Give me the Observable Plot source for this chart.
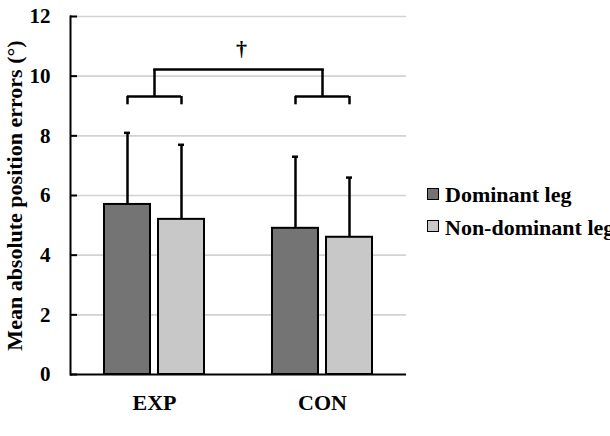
<!DOCTYPE html>
<html>
<head>
<meta charset="utf-8">
<script src="https://cdn.jsdelivr.net/npm/d3@7"></script>
<script src="https://cdn.jsdelivr.net/npm/@observablehq/plot@0.6"></script>
<style>
  html, body { margin: 0; padding: 0; background: #fff; overflow: hidden; }
  #wrap { position: relative; width: 610px; height: 436px; }
  #wrap svg { position: absolute; left: 0; top: 0; }
  .key { position: absolute; font: bold 22px "Liberation Serif", "DejaVu Serif", serif; line-height: 22px; white-space: nowrap; color: #000; }
  .swatch { position: absolute; width: 10px; height: 10px; border: 1.6px solid #000; }
</style>
</head>
<body>
<div id="wrap"></div>
<script>
// Groups and leg conditions
const groups = ["EXP", "CON"];
const legLabels = ["Dominant leg", "Non-dominant leg"];

// Mean absolute position error (°) and SD for each group
const dominantMean = [5.7, 4.9];
const dominantSD = [2.4, 2.4];
const nonDominantMean = [5.2, 4.6];
const nonDominantSD = [2.5, 2.0];

// Axis ticks
const yTicks = [0, 2, 4, 6, 8, 10, 12];

// Significance bracket levels (°) and marker
const bracketFoot = 9.04;
const bracketArm = 9.32;
const bracketTop = 10.22;
const daggerLevel = 10.9;
const significance = "†";

const colors = { dominant: "#747474", nonDominant: "#c8c8c8" };
const serifFont = "'Liberation Serif', 'DejaVu Serif', serif";

const dominant = groups.map((g, i) => ({ group: g, mean: dominantMean[i], sd: dominantSD[i] }));
const nonDominant = groups.map((g, i) => ({ group: g, mean: nonDominantMean[i], sd: nonDominantSD[i] }));

// Layout of the frame and of the two bars inside each group band
const W = 610, H = 436;
const M = { left: 70, right: 204, top: 16, bottom: 62 };
const frameW = W - M.left - M.right;
const bandW = frameW / groups.length;
const barW = 46, innerGap = 8;
const outer = (bandW - 2 * barW - innerGap) / 2;
const off = (barW + innerGap) / 2; // bar centre offset from band centre
const capHalf = 3;

const errorMarks = (rows, side) => [
  Plot.ruleX(rows, { x: "group", y1: "mean", y2: d => d.mean + d.sd, dx: side * off, stroke: "#000", strokeWidth: 2.5 }),
  Plot.tickY(rows, {
    x: "group", y: d => d.mean + d.sd, stroke: "#000", strokeWidth: 2.5,
    insetLeft: bandW / 2 + side * off - capHalf, insetRight: bandW / 2 - side * off - capHalf
  })
];

const chart = Plot.plot({
  width: W, height: H,
  marginLeft: M.left, marginRight: M.right, marginTop: M.top, marginBottom: M.bottom,
  style: { fontFamily: serifFont, fontWeight: "bold", background: "transparent", color: "#000" },
  x: { type: "band", domain: groups, paddingInner: 0, paddingOuter: 0 },
  y: { domain: [0, 12] },
  marks: [
    Plot.gridY(yTicks.filter(d => d > 0), { stroke: "#d2d2d2", strokeOpacity: 1, strokeWidth: 1.6 }),
    Plot.axisY(yTicks, { tickSize: 0, tickPadding: 20, fontSize: 21, fontFamily: serifFont, label: null }),
    Plot.axisX({ tickSize: 0, tickPadding: 20, fontSize: 22, fontFamily: serifFont, label: null }),
    Plot.tickY(yTicks, { y: d => d, insetRight: frameW - 7, stroke: "#000", strokeWidth: 2 }),
    Plot.barY(dominant, { x: "group", y: "mean", fill: colors.dominant, stroke: "#000", strokeWidth: 2, insetLeft: outer, insetRight: outer + barW + innerGap }),
    Plot.barY(nonDominant, { x: "group", y: "mean", fill: colors.nonDominant, stroke: "#000", strokeWidth: 2, insetLeft: outer + barW + innerGap, insetRight: outer }),
    ...errorMarks(dominant, -1),
    ...errorMarks(nonDominant, 1),
    // within-group brackets
    Plot.tickY(groups, { x: d => d, y: () => bracketArm, insetLeft: bandW / 2 - off, insetRight: bandW / 2 - off, stroke: "#000", strokeWidth: 2.5 }),
    Plot.ruleX(groups, { x: d => d, y1: () => bracketFoot, y2: () => bracketArm, dx: -off, stroke: "#000", strokeWidth: 2.5 }),
    Plot.ruleX(groups, { x: d => d, y1: () => bracketFoot, y2: () => bracketArm, dx: off, stroke: "#000", strokeWidth: 2.5 }),
    // between-group bracket
    Plot.ruleX(groups, { x: d => d, y1: () => bracketArm, y2: () => bracketTop, stroke: "#000", strokeWidth: 2.5 }),
    Plot.line(groups, { x: d => d, y: () => bracketTop, stroke: "#000", strokeWidth: 2.5, strokeLinecap: "square" }),
    Plot.text([significance], { y: () => daggerLevel, text: d => d, dx: 3, fontSize: 22, fontFamily: serifFont, fill: "#000" }),
    // axis lines
    Plot.ruleY([0], { stroke: "#000", strokeWidth: 2 }),
    Plot.frame({ anchor: "left", stroke: "#000", strokeWidth: 2 }),
    // y axis title
    Plot.text(["Mean absolute position errors (°)"], {
      frameAnchor: "left", dx: -56, rotate: -90, textAnchor: "middle", lineAnchor: "middle",
      text: d => d, fontSize: 22, fontFamily: serifFont, fill: "#000"
    })
  ]
});

const wrap = document.getElementById("wrap");
wrap.appendChild(chart);

// Legend beside the frame
const legendFills = [colors.dominant, colors.nonDominant];
legLabels.forEach((label, i) => {
  const top = 184 + i * 32.5;
  const sw = document.createElement("div");
  sw.className = "swatch";
  sw.style.left = "427px";
  sw.style.top = (top + 3.5) + "px";
  sw.style.background = legendFills[i];
  wrap.appendChild(sw);
  const t = document.createElement("div");
  t.className = "key";
  t.style.left = "445px";
  t.style.top = top + "px";
  t.textContent = label;
  wrap.appendChild(t);
});
</script>
</body>
</html>
